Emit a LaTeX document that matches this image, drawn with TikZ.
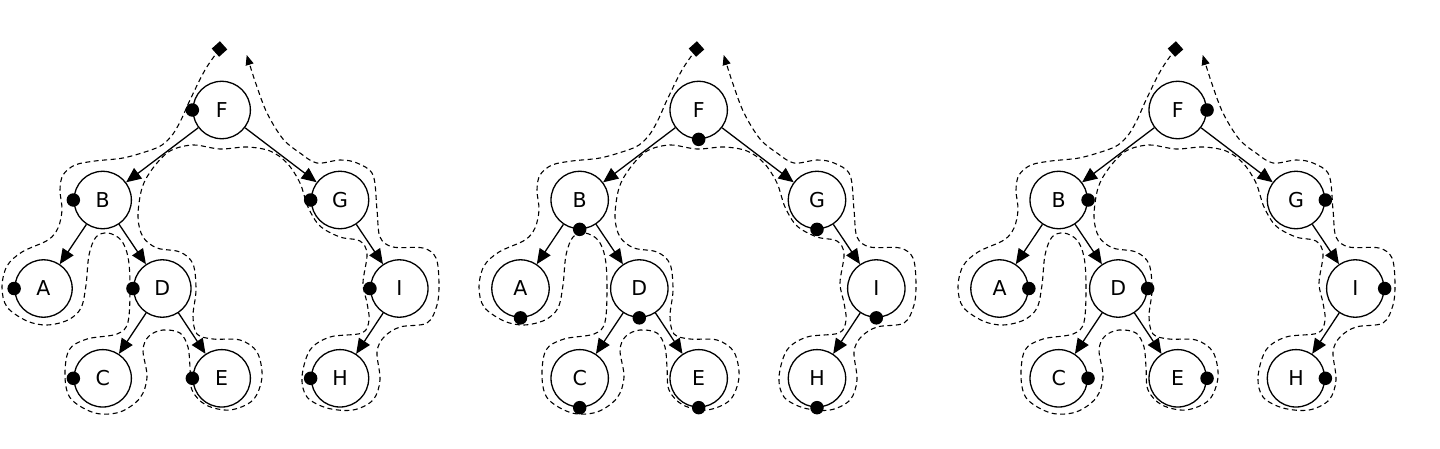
\documentclass[tikz,border=0pt]{standalone}
\usepackage{fontspec}
\setmainfont{DejaVu Sans}
\usetikzlibrary{arrows.meta}
\tikzset{
  treenode/.style={circle, draw, line width=1.3pt, minimum size=57.4pt, inner sep=0pt,
    font=\fontsize{20.5}{20.5}\selectfont},
  treeedge/.style={line width=1.3pt, -{Triangle[length=15pt,width=13pt]}},
  contour/.style={line width=1.1pt, dash pattern=on 5pt off 3.5pt,
    -{Triangle[length=10pt,width=8pt]}},
  visitdot/.style={circle, fill, inner sep=0pt, minimum size=13.5pt},
  startmark/.style={rectangle, fill, inner sep=0pt, minimum size=11pt, rotate=42},
}
\newcommand\traversaltree[3]{%
\begin{scope}[shift={(#1,0)}]
  \node[treenode] (#2F) at (221.7,110) {F};
  \node[treenode] (#2B) at (102.7,200) {B};
  \node[treenode] (#2G) at (340,200) {G};
  \node[treenode] (#2A) at (43.5,288.5) {A};
  \node[treenode] (#2D) at (162.3,288.5) {D};
  \node[treenode] (#2I) at (399.3,288.5) {I};
  \node[treenode] (#2C) at (102.7,378.3) {C};
  \node[treenode] (#2E) at (221.7,378.3) {E};
  \node[treenode] (#2H) at (340,378.3) {H};
  \draw[treeedge] (#2F) -- (#2B);
  \draw[treeedge] (#2F) -- (#2G);
  \draw[treeedge] (#2B) -- (#2A);
  \draw[treeedge] (#2B) -- (#2D);
  \draw[treeedge] (#2D) -- (#2C);
  \draw[treeedge] (#2D) -- (#2E);
  \draw[treeedge] (#2G) -- (#2I);
  \draw[treeedge] (#2I) -- (#2H);
  \node[startmark] (#2start) at (219.5,49) {};
  \coordinate (#2end) at (246.7,55);
  \draw[contour] plot[smooth, tension=0.55] coordinates {(#2start)
    (205,70) (190,100) (182,118) (173,134) (162,145) (148,151) (123,158) (95,161)
    (75,165) (63,175) (60,190) (62,210) (58,228) (48,240) (22,252) (7,266) (2,287)
    (7,307) (27,321) (47,325) (68,320) (81,308) (86,285) (89,255) (96,237) (108,233)
    (121,240) (128,257) (130,285) (128,322) (117,334) (87,339) (69,350) (65,377)
    (71,399) (95,413) (120,412) (140,398) (147,377) (143,350) (149,336) (163,330)
    (180,333) (188,347) (190,367) (192,390) (206,405) (230,410) (253,400) (262,377)
    (257,352) (240,340) (213,339) (197,334) (193,316) (196,290) (193,264) (180,252)
    (157,248) (143,237) (138,217) (142,188) (153,168) (170,151) (193,145) (220,149)
    (247,147) (270,151) (287,163) (300,183) (308,207) (320,226) (340,237) (360,241)
    (367,254) (363,283) (367,303) (369,320) (362,333) (330,337) (310,350) (302,377)
    (307,397) (327,408) (353,410) (373,400) (380,380) (377,352) (384,337) (400,327)
    (427,323) (437,305) (439,283) (436,258) (423,248) (393,247) (380,237) (377,210)
    (373,175) (357,163) (340,160) (317,163) (300,153) (283,139) (267,113) (256,84)
    (#2end)};
  \foreach \n in {F,B,G,A,D,I,C,E,H} \node[visitdot] (#2dot\n) at (#2\n.#3) {};
\end{scope}}
\begin{document}
\begin{tikzpicture}[x=1pt, y=-1pt]
  \useasboundingbox (0,0) rectangle (1440,448);
  \traversaltree{0}{p}{west}
  \traversaltree{477}{q}{south}
  \traversaltree{956}{r}{east}
\end{tikzpicture}
\end{document}
